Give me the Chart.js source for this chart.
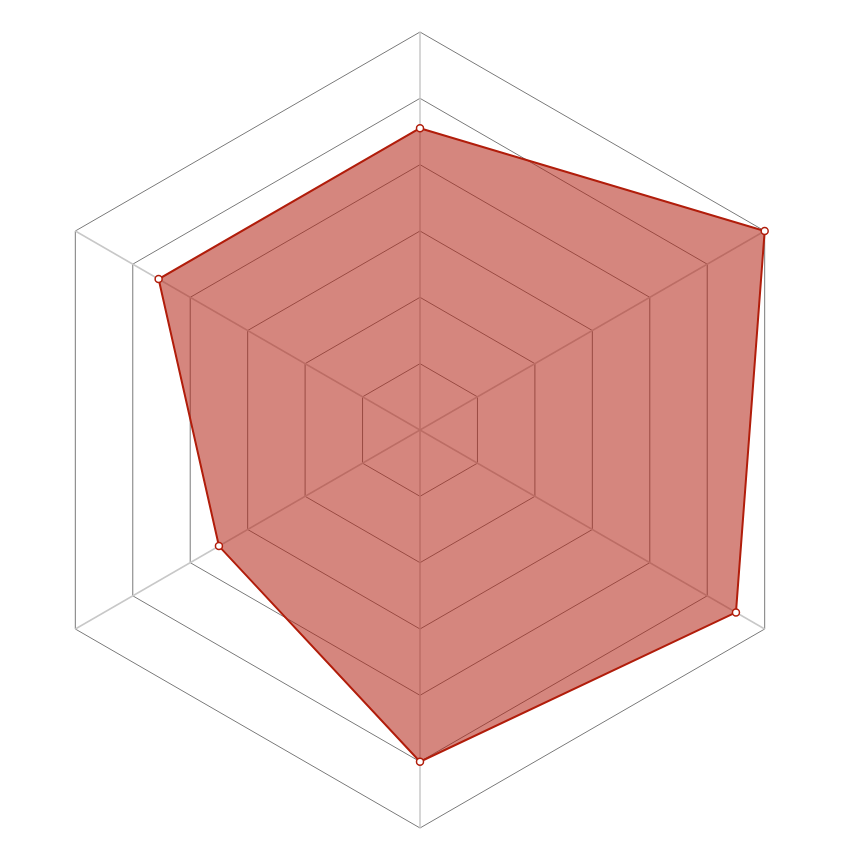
<!DOCTYPE html>
<html lang="en">
<head>
    <meta charset="UTF-8">
    <title>Radar</title>
    <script src="https://cdn.jsdelivr.net/npm/chart.js"></script>
    <style>
        html, body { margin: 0; padding: 0; background: #fff; }
        #wrap { width: 860px; height: 860px; }
    </style>
</head>
<body>
    <div id="wrap"><canvas id="chart"></canvas></div>

    <script>
// Axis names (not shown in the picture) and the values read off it
const axes = ['A', 'B', 'C', 'D', 'E', 'F'];
const values = [4.55, 6.0, 5.5, 5.0, 3.5, 4.55];
const scaleMax = 6;

const ctx = document.getElementById('chart').getContext('2d');

new Chart(ctx, {
    type: 'radar',
    data: {
        labels: axes,
        datasets: [{
            data: values,
            fill: true,
            backgroundColor: 'rgba(178, 34, 20, 0.55)',
            borderColor: '#b11d0b',
            borderWidth: 2,
            pointRadius: 3.5,
            pointBorderWidth: 1.5,
            pointBackgroundColor: '#ffffff',
            pointBorderColor: '#b11d0b'
        }]
    },
    options: {
        responsive: true,
        maintainAspectRatio: false,
        animation: false,
        layout: {
            padding: { left: 22, right: 42, top: 32, bottom: 32 }
        },
        scales: {
            r: {
                min: 0,
                max: scaleMax,
                ticks: { display: false, stepSize: 1 },
                pointLabels: { display: false },
                grid: { color: '#7a7a7a', lineWidth: 1 },
                angleLines: { color: '#c8c8c8', lineWidth: 1.5 }
            }
        },
        plugins: {
            legend: { display: false },
            tooltip: { enabled: false }
        }
    }
});
    </script>
</body>
</html>
